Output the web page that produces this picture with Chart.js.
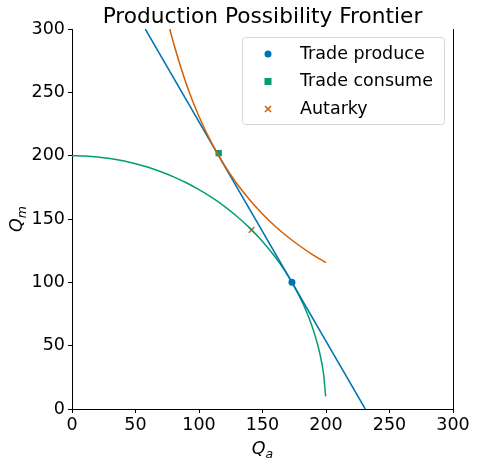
<!DOCTYPE html>
<html>
<head>
<meta charset="utf-8">
<script src="https://cdn.jsdelivr.net/npm/chart.js@4/dist/chart.umd.min.js"></script>
<style>
  html, body { margin: 0; padding: 0; background: #fff; }
  #wrap { width: 477px; height: 465px; }
</style>
</head>
<body>
<div id="wrap"><canvas id="ppf" width="477" height="465"></canvas></div>
<script>
"use strict";

// ---- data -------------------------------------------------------------
const ppfX = [0, 10, 20, 30, 40, 50, 60, 70, 80, 90, 100, 110, 120, 130, 140, 150, 160, 170, 180, 185, 190, 195, 198, 199.75];
const ppfY = [200, 199.7, 199, 197.7, 196, 193.6, 190.8, 187.3, 183.3, 178.6, 173.2, 167, 160, 152, 142.8, 132.3, 120, 105.4, 87.2, 76, 62.4, 44.4, 28.2, 10];

const priceX = [57.7, 230.9];
const priceY = [300, 0];

const icX = [77, 80, 90, 100, 110, 120, 130, 140, 150, 160, 170, 180, 190, 200];
const icY = [300, 288.7, 256.6, 230.9, 209.9, 192.5, 177.6, 165, 154, 144.3, 135.8, 128.3, 121.5, 115.5];

const produceX = [173.2], produceY = [100];
const consumeX = [115.5], consumeY = [202];
const autarkyX = [141.4], autarkyY = [141.4];

const xTicks = [0, 50, 100, 150, 200, 250, 300];
const yTicks = [0, 50, 100, 150, 200, 250, 300];

const TITLE = "Production Possibility Frontier";
const BLUE = "#0173b2", GREEN = "#029e73", ORANGE = "#d55e00";
const FONT = "'DejaVu Sans', sans-serif";

const pts = (xs, ys) => xs.map((x, i) => ({ x, y: ys[i] }));

// ---- title, legend and axis titles drawn by hand ----------------------
const extras = {
  id: "extras",
  afterDraw(chart) {
    const ctx = chart.ctx;
    const a = chart.chartArea;
    ctx.save();

    // title, centred over the plot area
    ctx.fillStyle = "#000";
    ctx.font = "21.7px " + FONT;
    ctx.textAlign = "center";
    ctx.textBaseline = "alphabetic";
    ctx.fillText(TITLE, (a.left + a.right) / 2, 23);

    // axis titles with subscripts
    const sub = (x, y, main, s) => {
      ctx.font = "italic 17.5px " + FONT;
      const w1 = ctx.measureText(main).width;
      ctx.font = "italic 12.5px " + FONT;
      const w2 = ctx.measureText(s).width;
      const x0 = x - (w1 + w2) / 2;
      ctx.fillStyle = "#000";
      ctx.textBaseline = "alphabetic";
      ctx.textAlign = "left";
      ctx.font = "italic 17.5px " + FONT;
      ctx.fillText(main, x0, y);
      ctx.font = "italic 12.5px " + FONT;
      ctx.fillText(s, x0 + w1, y + 4);
    };
    sub((a.left + a.right) / 2, 454, "Q", "a");
    ctx.save();
    ctx.translate(22, (a.top + a.bottom) / 2);
    ctx.rotate(-Math.PI / 2);
    sub(0, 0, "Q", "m");
    ctx.restore();

    // legend box
    const bx = 242, by = 37, bw = 202, bh = 87;
    ctx.beginPath();
    ctx.roundRect(bx + 0.5, by + 0.5, bw, bh, 3);
    ctx.fillStyle = "rgba(255,255,255,0.8)";
    ctx.fill();
    ctx.strokeStyle = "#d6d6d6";
    ctx.lineWidth = 1;
    ctx.stroke();

    const items = chart.data.datasets.filter((d) => d.inLegend);
    items.forEach((d, i) => {
      const cy = 54 + i * 27.5;
      const cx = 268;
      ctx.fillStyle = d.backgroundColor;
      ctx.strokeStyle = d.borderColor;
      if (d.pointStyle === "circle") {
        ctx.beginPath();
        ctx.arc(cx, cy, 3.5, 0, Math.PI * 2);
        ctx.fill();
      } else if (d.pointStyle === "rect") {
        ctx.fillRect(cx - 3.5, cy - 3.5, 7, 7);
      } else {
        ctx.lineWidth = 1.5;
        ctx.beginPath();
        ctx.moveTo(cx - 3, cy - 3); ctx.lineTo(cx + 3, cy + 3);
        ctx.moveTo(cx - 3, cy + 3); ctx.lineTo(cx + 3, cy - 3);
        ctx.stroke();
      }
      ctx.fillStyle = "#000";
      ctx.font = "17.5px " + FONT;
      ctx.textAlign = "left";
      ctx.textBaseline = "middle";
      ctx.fillText(d.label, 300, cy);
    });
    ctx.restore();
  },
};

// ---- chart ------------------------------------------------------------
const lineDs = (label, data, color) => ({
  label, data, showLine: true, borderColor: color, backgroundColor: color,
  borderWidth: 1.5, pointRadius: 0, cubicInterpolationMode: "monotone", inLegend: false,
});

new Chart(document.getElementById("ppf"), {
  type: "scatter",
  data: {
    datasets: [
      lineDs("Indifference", pts(icX, icY), ORANGE),
      lineDs("Price line", pts(priceX, priceY), BLUE),
      lineDs("PPF", pts(ppfX, ppfY), GREEN),
      { label: "Trade produce", data: pts(produceX, produceY), pointStyle: "circle", pointRadius: 3.5,
        backgroundColor: BLUE, borderColor: BLUE, borderWidth: 0, inLegend: true },
      { label: "Trade consume", data: pts(consumeX, consumeY), pointStyle: "rect", pointRadius: 4.5,
        backgroundColor: GREEN, borderColor: GREEN, borderWidth: 0, inLegend: true },
      { label: "Autarky", data: pts(autarkyX, autarkyY), pointStyle: "crossRot", pointRadius: 4,
        backgroundColor: ORANGE, borderColor: ORANGE, borderWidth: 1.5, inLegend: true },
    ],
  },
  options: {
    responsive: false,
    animation: false,
    devicePixelRatio: 1,
    layout: { padding: { left: 0, right: 24, top: 29, bottom: 0 } },
    plugins: {
      legend: { display: false },
      tooltip: { enabled: false },
      title: { display: false },
    },
    scales: {
      x: {
        type: "linear", min: 0, max: 300,
        afterBuildTicks: (s) => { s.ticks = xTicks.map((v) => ({ value: v })); },
        afterFit: (s) => { s.height = 56; },
        ticks: { color: "#000", padding: 2, font: { family: FONT, size: 17.5 } },
        grid: { drawOnChartArea: false, tickLength: 4, color: "#000", tickColor: "#000" },
        border: { color: "#000", width: 1 },
      },
      y: {
        type: "linear", min: 0, max: 300,
        afterBuildTicks: (s) => { s.ticks = yTicks.map((v) => ({ value: v })); },
        afterFit: (s) => { s.width = 72; },
        ticks: { color: "#000", padding: 3, font: { family: FONT, size: 17.5 } },
        grid: { drawOnChartArea: false, tickLength: 4, color: "#000", tickColor: "#000" },
        border: { color: "#000", width: 1 },
      },
      yr: {
        type: "linear", position: "right", min: 0, max: 300,
        afterFit: (s) => { s.width = 0; },
        ticks: { display: false },
        grid: { display: false },
        border: { display: true, color: "#000", width: 1 },
      },
    },
  },
  plugins: [extras],
});
</script>
</body>
</html>
